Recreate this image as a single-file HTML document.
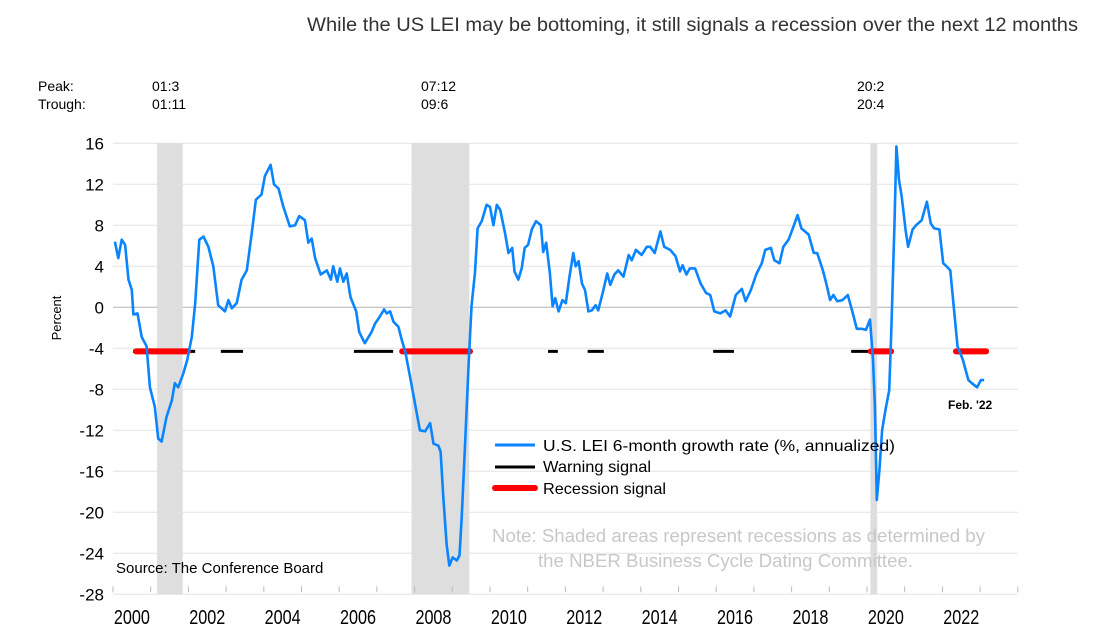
<!DOCTYPE html>
<html><head><meta charset="utf-8"><style>
body{margin:0;background:#fff;}
svg{display:block;font-family:"Liberation Sans",Arial,sans-serif;}
</style></head><body>
<svg id="chart" width="1107" height="638" viewBox="0 0 1107 638" xmlns="http://www.w3.org/2000/svg">
<text x="307" y="31" textLength="771" lengthAdjust="spacingAndGlyphs" font-size="19.5" fill="#333">While the US LEI may be bottoming, it still signals a recession over the next 12 months</text>
<text x="38" y="91" font-size="14" fill="#000">Peak:</text>
<text x="38" y="109" font-size="14" fill="#000">Trough:</text>
<text transform="translate(61,318) rotate(-90)" text-anchor="middle" font-size="13" fill="#000">Percent</text>
<g id="grid"></g><g id="shade"></g><g id="signals"></g><g id="series"></g><g id="axes"></g>
<g>
<line x1="495" y1="445" x2="535" y2="445" stroke="#0a84ff" stroke-width="3"/>
<text x="543" y="451" font-size="16" textLength="352" lengthAdjust="spacingAndGlyphs" fill="#000">U.S. LEI 6-month growth rate (%, annualized)</text>
<line x1="495" y1="467" x2="535" y2="467" stroke="#000" stroke-width="3"/>
<text x="543" y="472" font-size="16" textLength="108" lengthAdjust="spacingAndGlyphs" fill="#000">Warning signal</text>
<line x1="495" y1="488" x2="535" y2="488" stroke="#f00" stroke-width="6" stroke-linecap="round"/>
<text x="543" y="494" font-size="16" textLength="123" lengthAdjust="spacingAndGlyphs" fill="#000">Recession signal</text>
</g>
<text x="492" y="542" textLength="493" lengthAdjust="spacingAndGlyphs" font-size="18" fill="#c8c8c8">Note: Shaded areas represent recessions as determined by</text>
<text x="538" y="567" textLength="375" lengthAdjust="spacingAndGlyphs" font-size="18" fill="#c8c8c8">the NBER Business Cycle Dating Committee.</text>
<text x="116" y="573" font-size="15" fill="#000">Source: The Conference Board</text>
<text x="948" y="409" font-size="12" font-weight="bold" fill="#000">Feb. '22</text>
</svg>
<script>
const yTicks=[16,12,8,4,0,-4,-8,-12,-16,-20,-24,-28];
const xYears=[2000,2002,2004,2006,2008,2010,2012,2014,2016,2018,2020,2022];
const recStart=[2001.17,2007.92,2020.09];
const recEnd=[2001.85,2009.45,2020.27];
const recPeak=["01:3","07:12","20:2"];
const recTrough=["01:11","09:6","20:4"];
const dates=[2000.05,2000.14,2000.23,2000.32,2000.41,2000.5,2000.54,2000.65,2000.76,2000.89,2000.98,2001.11,2001.2,2001.29,2001.42,2001.56,2001.64,2001.73,2001.87,2001.97,2002.09,2002.18,2002.29,2002.4,2002.53,2002.66,2002.79,2002.97,2003.06,2003.15,2003.28,2003.41,2003.55,2003.68,2003.79,2003.94,2004.03,2004.18,2004.27,2004.39,2004.52,2004.69,2004.83,2004.94,2005.09,2005.18,2005.27,2005.36,2005.51,2005.67,2005.78,2005.84,2005.95,2006.02,2006.11,2006.2,2006.3,2006.45,2006.53,2006.68,2006.86,2006.95,2007.08,2007.19,2007.26,2007.35,2007.44,2007.57,2007.66,2007.75,2007.88,2008.01,2008.14,2008.28,2008.41,2008.5,2008.63,2008.69,2008.76,2008.85,2008.92,2009.01,2009.12,2009.19,2009.25,2009.34,2009.43,2009.51,2009.6,2009.67,2009.78,2009.91,2010.0,2010.09,2010.18,2010.27,2010.4,2010.49,2010.59,2010.65,2010.75,2010.84,2010.92,2011.01,2011.11,2011.22,2011.35,2011.41,2011.49,2011.59,2011.66,2011.73,2011.82,2011.92,2012.01,2012.11,2012.21,2012.27,2012.35,2012.44,2012.52,2012.61,2012.7,2012.8,2012.87,2012.99,2013.11,2013.19,2013.3,2013.4,2013.54,2013.68,2013.76,2013.87,2014.02,2014.16,2014.25,2014.37,2014.52,2014.62,2014.78,2014.92,2015.04,2015.11,2015.21,2015.3,2015.44,2015.59,2015.73,2015.84,2015.95,2016.11,2016.25,2016.37,2016.52,2016.68,2016.78,2016.92,2017.06,2017.21,2017.3,2017.45,2017.54,2017.68,2017.78,2017.92,2018.02,2018.16,2018.26,2018.45,2018.59,2018.68,2018.83,2018.92,2019.02,2019.11,2019.21,2019.35,2019.49,2019.61,2019.73,2019.86,2019.97,2020.08,2020.16,2020.21,2020.26,2020.33,2020.4,2020.49,2020.59,2020.64,2020.69,2020.73,2020.78,2020.85,2020.92,2021.02,2021.09,2021.21,2021.3,2021.45,2021.59,2021.69,2021.78,2021.92,2022.02,2022.11,2022.21,2022.3,2022.4,2022.54,2022.69,2022.78,2022.92,2023.02,2023.11];
const values=[6.4,4.8,6.6,6.1,2.7,1.7,-0.7,-0.6,-2.9,-3.8,-7.8,-9.7,-12.8,-13.1,-10.7,-9.1,-7.4,-7.8,-6.4,-5.1,-2.9,0.4,6.6,6.9,5.9,4.0,0.2,-0.4,0.7,-0.1,0.4,2.7,3.6,7.2,10.5,11.0,12.8,13.9,12.0,11.6,9.8,7.9,8.0,8.9,8.5,6.3,6.7,4.8,3.2,3.6,2.7,4.0,2.5,3.8,2.5,3.3,1.0,-0.4,-2.4,-3.5,-2.4,-1.6,-0.9,-0.2,-0.6,-0.4,-1.4,-1.9,-3.2,-4.3,-6.8,-9.4,-12.0,-12.1,-11.3,-13.3,-13.5,-14.1,-18.5,-23.1,-25.2,-24.4,-24.7,-24.2,-20.5,-13.3,-5.8,0.1,3.3,7.7,8.4,10.0,9.8,8.0,10.0,9.5,7.2,5.3,5.8,3.5,2.7,3.8,5.8,6.1,7.6,8.4,8.0,5.4,6.3,3.3,0.1,0.9,-0.4,0.7,0.4,3.0,5.3,4.0,4.5,2.3,1.7,-0.4,-0.3,0.2,-0.3,1.4,3.3,2.2,3.2,3.6,3.0,5.1,4.6,5.6,5.1,5.9,5.9,5.3,7.4,5.9,5.6,5.0,3.5,4.1,3.2,3.8,3.8,2.3,1.4,1.2,-0.4,-0.6,-0.3,-0.9,1.2,1.8,0.6,1.7,3.2,4.3,5.6,5.8,4.6,4.3,5.9,6.6,7.6,9.0,7.7,7.1,5.3,5.3,3.6,2.3,0.7,1.2,0.6,0.7,1.2,-0.4,-2.1,-2.1,-2.2,-1.2,-5.1,-9.7,-18.8,-15.9,-12.0,-10.0,-8.1,-2.9,3.3,8.2,15.7,12.4,10.8,7.6,5.9,7.6,8.0,8.5,10.3,8.2,7.7,7.6,4.3,4.0,3.6,0.1,-3.8,-5.1,-7.1,-7.4,-7.8,-7.1,-7.1];
const signalLevel=-4.3;
const warnStart=[2000.53,2002.86,2006.39,2011.54,2012.59,2015.92,2019.58,2022.33];
const warnEnd=[2002.18,2003.45,2007.43,2011.8,2013.02,2016.47,2020.07,2022.4];
const redStart=[2000.61,2007.67,2020.1,2022.36];
const redEnd=[2001.99,2009.47,2020.64,2023.16];

const X0=113,PXY=37.7,Y0=307.3,PXV=10.25;
function xs(t){return X0+(t-2000)*PXY;}
function ys(v){return Y0-v*PXV;}
const NS="http://www.w3.org/2000/svg";
function mk(tag,parent,attrs){const e=document.createElementNS(NS,tag);for(const k in attrs)e.setAttribute(k,attrs[k]);parent.appendChild(e);return e;}
const grid=document.getElementById('grid'),axes=document.getElementById('axes'),shade=document.getElementById('shade'),sig=document.getElementById('signals'),ser=document.getElementById('series'),svg=document.getElementById('chart');
yTicks.forEach(v=>{
  const l=mk('line',grid,{x1:xs(2000),x2:xs(2024),y1:ys(v),y2:ys(v),stroke:v===0?'#b4b4b4':'#e3e3e3','stroke-width':1});
  
  
  const t=mk('text',axes,{x:104,y:ys(v)+6,'text-anchor':'end','font-size':17,fill:'#000'});
  t.textContent=v;
  
  
});
for(let yr=2000;yr<=2024;yr++){
  const l=mk('line',axes,{x1:xs(yr),x2:xs(yr),y1:ys(-28)-8,y2:ys(-28)-2,stroke:'#bbb','stroke-width':1});
  
  
}
xYears.forEach(yr=>{
  const t=mk('text',axes,{x:xs(yr+0.5)-18,y:624,textLength:36,lengthAdjust:'spacingAndGlyphs','font-size':20,fill:'#000'});
  t.textContent=yr;
  
  
});
recStart.forEach((s,i)=>{
  const r=mk('rect',shade,{x:xs(s),y:ys(16),width:xs(recEnd[i])-xs(s),height:ys(-28)-ys(16),fill:'#dedede'});
  
  
  const cx=i===0?152:(i===1?421:857);
  const p=mk('text',svg,{x:cx,y:91,'font-size':14,fill:'#000'});p.textContent=recPeak[i];
  
  
  const q=mk('text',svg,{x:cx,y:109,'font-size':14,fill:'#000'});q.textContent=recTrough[i];
  
  
});
warnStart.forEach((s,i)=>{
  const l=mk('line',sig,{x1:xs(s),x2:xs(warnEnd[i]),y1:ys(signalLevel),y2:ys(signalLevel),stroke:'#000','stroke-width':3});
  
  
});
redStart.forEach((s,i)=>{
  const l=mk('line',sig,{x1:xs(s),x2:xs(redEnd[i]),y1:ys(signalLevel),y2:ys(signalLevel),stroke:'#f00','stroke-width':6,'stroke-linecap':'round'});
  
  
});
const pts=dates.map((d,i)=>xs(d).toFixed(1)+','+ys(values[i]).toFixed(1)).join(' ');
const pl=mk('polyline',ser,{points:pts,fill:'none',stroke:'#0a84ff','stroke-width':2.6,'stroke-linejoin':'round'});


</script>
</body></html>
